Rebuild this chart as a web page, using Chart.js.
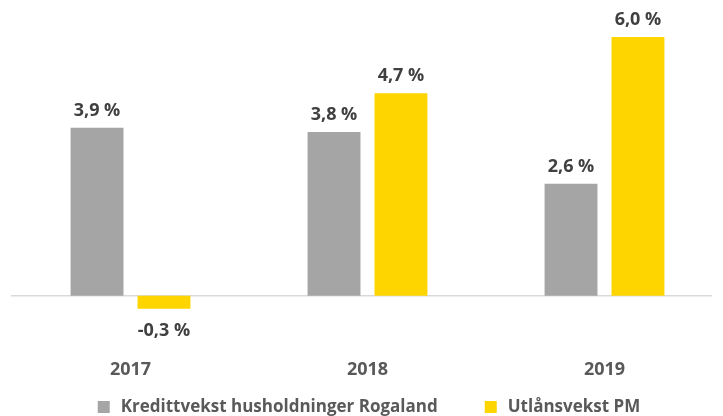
<!DOCTYPE html>
<html>
<head>
<meta charset="utf-8">
<script src="https://cdn.jsdelivr.net/npm/chart.js@4"></script>
<style>
html,body{margin:0;padding:0;background:#fff;}
#wrap{width:723px;height:416px;position:relative;}
</style>
</head>
<body>
<div id="wrap"><canvas id="c" width="723" height="416"></canvas></div>
<script>
const categories = ['2017', '2018', '2019'];
const seriesNames = ['Kredittvekst husholdninger Rogaland', 'Utlånsvekst PM'];
const kredittvekst = [3.9, 3.8, 2.6];
const utlansvekst = [-0.3, 4.7, 6.0];

const GRAY = '#A5A5A5';
const YELLOW = '#FFD500';
const FONT = '"Open Sans", "Liberation Sans", sans-serif';

function fmt(v){ return v.toFixed(1).replace('.', ',') + ' %'; }

const zeroLine = {
  id: 'zeroLine',
  beforeDatasetsDraw(chart){
    const ctx = chart.ctx, y = chart.scales.y.getPixelForValue(0);
    ctx.save();
    ctx.strokeStyle = '#D9D9D9';
    ctx.lineWidth = 1.5;
    ctx.beginPath();
    ctx.moveTo(11, y);
    ctx.lineTo(712, y);
    ctx.stroke();
    ctx.restore();
  }
};

const valueLabels = {
  id: 'valueLabels',
  afterDatasetsDraw(chart){
    const ctx = chart.ctx;
    ctx.save();
    ctx.font = 'bold 18px ' + FONT;
    ctx.fillStyle = '#404040';
    ctx.textAlign = 'center';
    ctx.textBaseline = 'middle';
    chart.data.datasets.forEach((ds, di) => {
      chart.getDatasetMeta(di).data.forEach((bar, i) => {
        const v = ds.data[i];
        const y = v >= 0 ? bar.y - 17 : bar.y + 22;
        ctx.fillText(fmt(v), bar.x, y);
      });
    });
    ctx.restore();
  }
};

const customLegend = {
  id: 'customLegend',
  afterDraw(chart){
    const ctx = chart.ctx;
    ctx.save();
    ctx.font = 'bold 17px ' + FONT;
    ctx.textBaseline = 'middle';
    const box = 12, gapText = 11, gapItem = 47;
    const items = chart.data.datasets.map(ds => ({text: ds.label, color: ds.backgroundColor, w: ctx.measureText(ds.label).width}));
    let total = 0;
    items.forEach((it, i) => { total += box + gapText + it.w + (i ? gapItem : 0); });
    let x = 369 - total / 2;
    const yc = 407;
    items.forEach(it => {
      ctx.fillStyle = it.color;
      ctx.fillRect(x, yc - box/2, box, box);
      ctx.fillStyle = '#595959';
      ctx.fillText(it.text, x + box + gapText, yc);
      x += box + gapText + it.w + gapItem;
    });
    ctx.restore();
  }
};

new Chart(document.getElementById('c'), {
  type: 'bar',
  data: {
    labels: categories,
    datasets: [
      {label: seriesNames[0], data: kredittvekst, backgroundColor: GRAY},
      {label: seriesNames[1], data: utlansvekst, backgroundColor: YELLOW}
    ]
  },
  options: {
    responsive: false,
    animation: false,
    devicePixelRatio: 1,
    layout: {padding: {left: 12, right: 0, top: 0, bottom: 29}},
    datasets: {bar: {categoryPercentage: 0.565, barPercentage: 0.79}},
    plugins: {legend: {display: false}, tooltip: {enabled: false}},
    scales: {
      x: {
        grid: {display: false},
        border: {display: false},
        ticks: {color: '#595959', padding: 6, font: {family: FONT, size: 18, weight: 'bold'}}
      },
      y: {display: false, min: -1.15, max: 6.86}
    }
  },
  plugins: [zeroLine, valueLabels, customLegend]
});
</script>
</body>
</html>
